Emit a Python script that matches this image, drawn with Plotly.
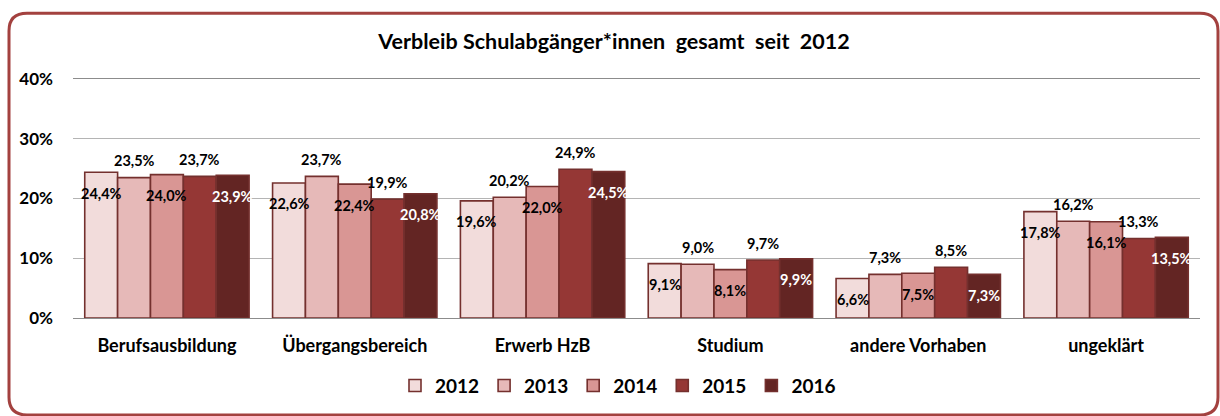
import plotly.graph_objects as go

# --- data -------------------------------------------------------------
categories = ["Berufsausbildung", "Übergangsbereich", "Erwerb HzB",
              "Studium", "andere Vorhaben", "ungeklärt"]
years = ["2012", "2013", "2014", "2015", "2016"]

values_2012 = [24.4, 22.6, 19.6, 9.1, 6.6, 17.8]
values_2013 = [23.5, 23.7, 20.2, 9.0, 7.3, 16.2]
values_2014 = [24.0, 22.4, 22.0, 8.1, 7.5, 16.1]
values_2015 = [23.7, 19.9, 24.9, 9.7, 8.5, 13.3]
values_2016 = [23.9, 20.8, 24.5, 9.9, 7.3, 13.5]

y_ticks = [0, 10, 20, 30, 40]
y_tick_labels = ["0%", "10%", "20%", "30%", "40%"]

# --- styling ----------------------------------------------------------
series = [values_2012, values_2013, values_2014, values_2015, values_2016]
fills = ["#F2DCDB", "#E6B9B8", "#D99694", "#953735", "#632523"]
label_colors = ["#000000", "#000000", "#000000", "#000000", "#FFFFFF"]
# labels alternate between inside the bar top and above the bar
label_inside = [True, False, True, False, True]
outline = "#74302E"
frame_color = "#A3413F"
FONT = "Lato"

W, H = 1220, 416
ML, MR, MT, MB = 73, 20, 79, 93
BARGAP = 0.125

fig = go.Figure()
for year, vals, col in zip(years, series, fills):
    fig.add_trace(go.Bar(
        name=year, x=categories, y=vals,
        marker=dict(color=col, line=dict(color=outline, width=1.6)),
        hoverinfo="skip",
    ))

# value labels placed relative to each bar
n = len(years)
bar_w = (1 - BARGAP) / n
for j, (vals, tc, inside) in enumerate(zip(series, label_colors, label_inside)):
    for i, v in enumerate(vals):
        fig.add_annotation(
            x=i + (j - (n - 1) / 2) * bar_w, y=v,
            xref="x", yref="y",
            text=f"{v:.1f}".replace(".", ",") + "%",
            showarrow=False,
            yshift=-21 if inside else 17,
            font=dict(family=FONT, size=14.5, color=tc, weight="bold"),
        )

# rounded frame around the whole chart (pixel -> paper conversion)
pw, ph = W - ML - MR, H - MT - MB


def px(x):
    return (x - ML) / pw


def py(y):
    return (H - MB - y) / ph


L, R, T, B, r = 9, 1218, 12, 422, 18
path = (
    f"M {px(L + r)},{py(T)} L {px(R - r)},{py(T)} "
    f"Q {px(R)},{py(T)} {px(R)},{py(T + r)} "
    f"L {px(R)},{py(B - r)} Q {px(R)},{py(B)} {px(R - r)},{py(B)} "
    f"L {px(L + r)},{py(B)} Q {px(L)},{py(B)} {px(L)},{py(B - r)} "
    f"L {px(L)},{py(T + r)} Q {px(L)},{py(T)} {px(L + r)},{py(T)} Z"
)
fig.add_shape(type="path", path=path, xref="paper", yref="paper",
              line=dict(color=frame_color, width=3), layer="above")

nb = "\u00a0"
title = f"Verbleib Schulabgänger*innen{nb} gesamt{nb} seit{nb} 2012"

fig.update_layout(
    width=W, height=H,
    margin=dict(l=ML, r=MR, t=MT, b=MB),
    paper_bgcolor="white", plot_bgcolor="white",
    barmode="group", bargap=BARGAP, bargroupgap=0,
    title=dict(text=title, x=614 / W, xref="container", xanchor="center",
               y=1 - 41 / H, yref="container", yanchor="middle",
               font=dict(family=FONT, size=21.5, color="#000000", weight="bold")),
    legend=dict(orientation="h", x=(618 - ML) / pw, xanchor="center",
                y=(H - MB - 392) / ph, yanchor="middle",
                font=dict(family=FONT, size=19, color="#000000", weight="bold"),
                itemclick=False, itemdoubleclick=False),
    showlegend=True,
    xaxis=dict(showgrid=False, showline=True, mirror=True, linecolor="#8C8C8C",
               linewidth=1, ticks="", ticklabelstandoff=11,
               tickfont=dict(family=FONT, size=18, color="#000000", weight="bold")),
    yaxis=dict(range=[0, 40], tickvals=y_ticks, ticktext=y_tick_labels,
               showgrid=True, gridcolor="#B4B4B4", gridwidth=1,
               zeroline=False, showline=False, ticks="", ticklabelstandoff=19,
               tickfont=dict(family=FONT, size=17, color="#000000", weight="bold")),
)

fig.write_html("out.html")
